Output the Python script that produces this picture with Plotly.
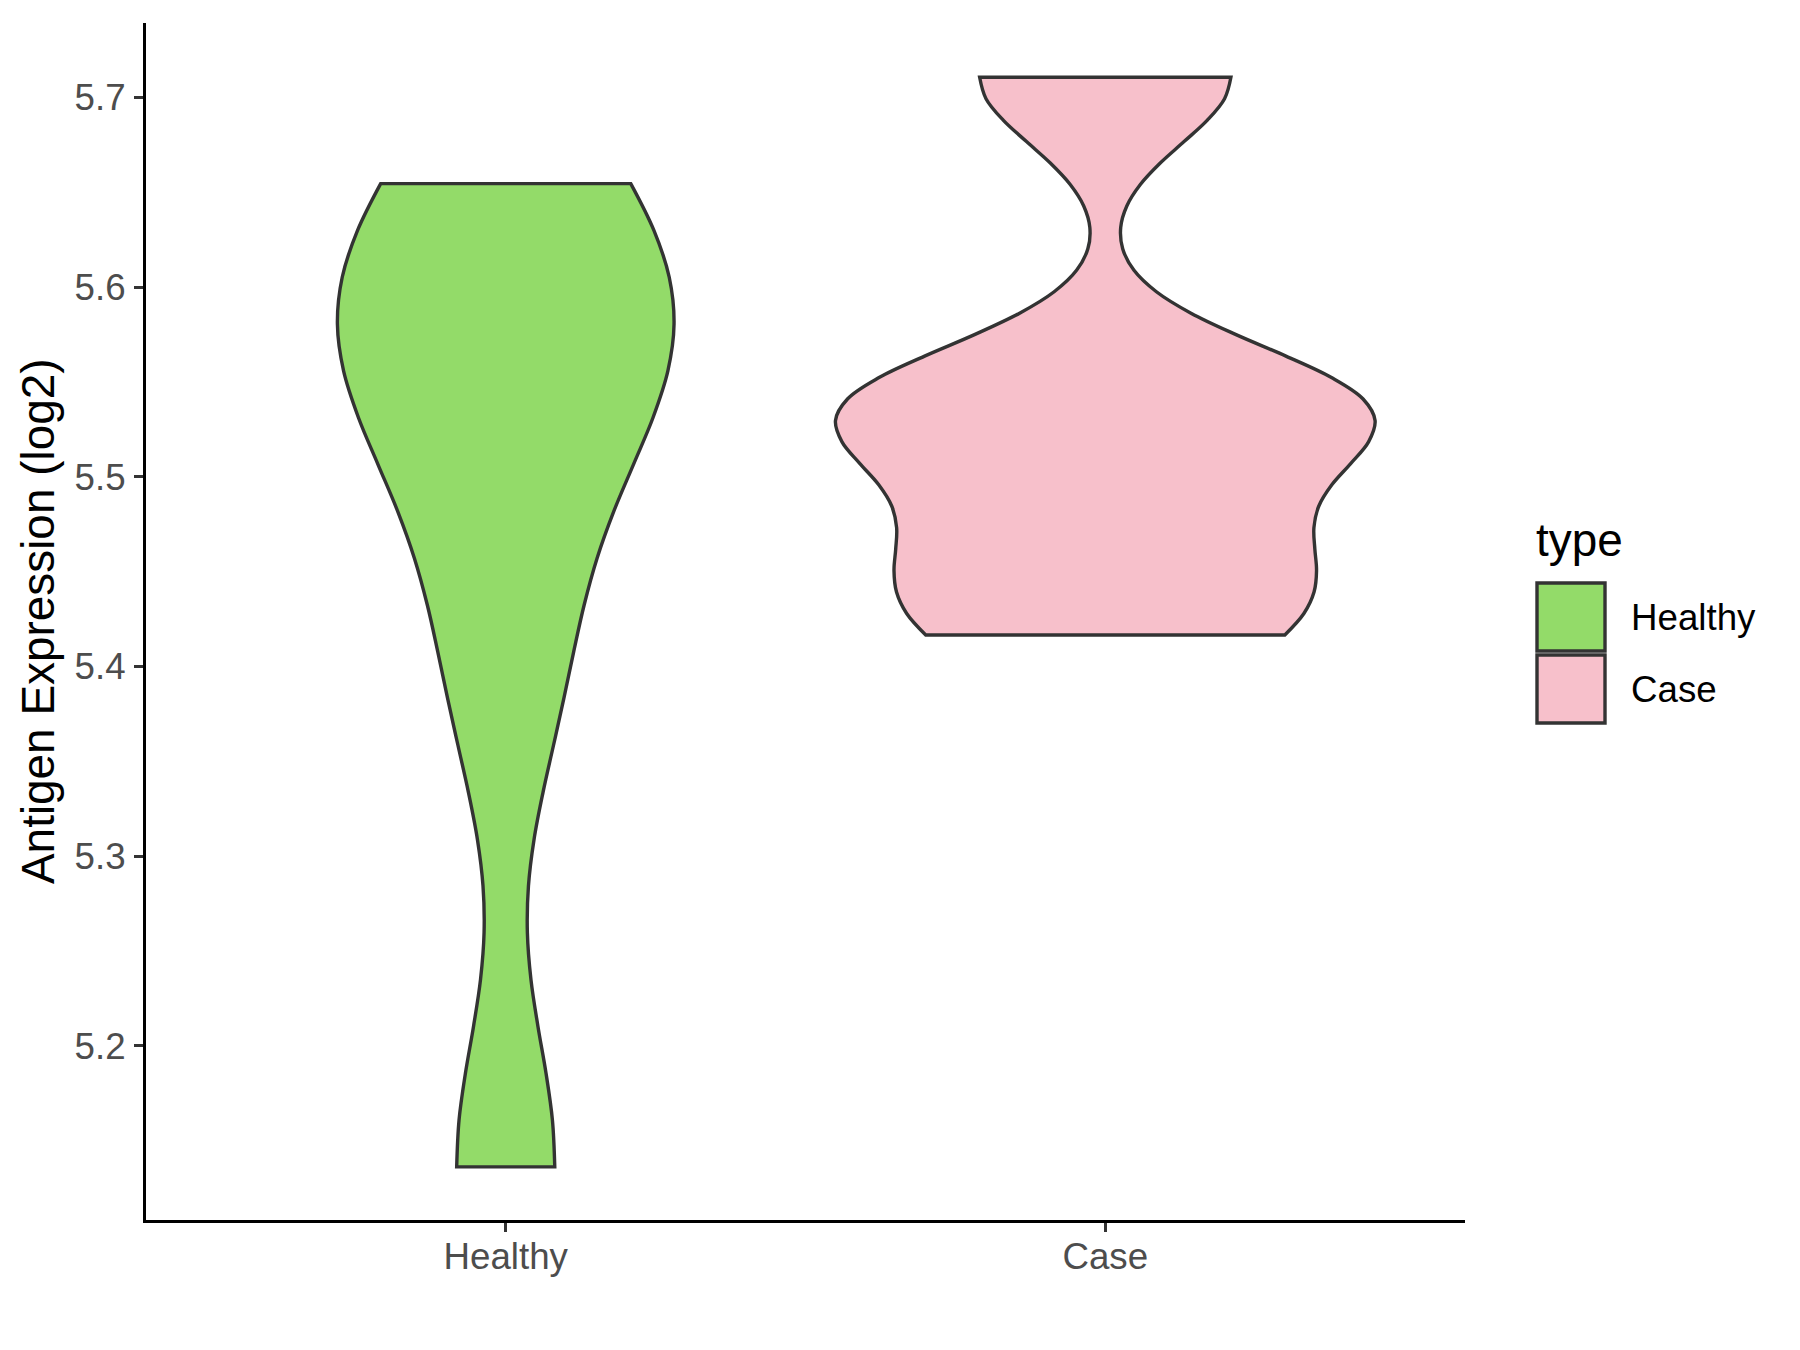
import plotly.graph_objects as go

# ---- data ----
categories = ["Healthy", "Case"]
healthy_values = [5.1361, 5.3982, 5.5319, 5.5701, 5.5987, 5.6546]
case_values = [5.4166, 5.4627, 5.5344, 5.5349, 5.7107]
y_tick_values = [5.2, 5.3, 5.4, 5.5, 5.6, 5.7]
y_tick_labels = ["5.2", "5.3", "5.4", "5.5", "5.6", "5.7"]
legend_title = "type"
y_title = "Antigen Expression (log2)"

# ---- style ----
fill_colors = {"Healthy": "#93DB69", "Case": "#F7C0CB"}
bandwidths = {"Healthy": 0.0751, "Case": 0.0351}
outline = "#333333"
FONT = "Liberation Sans, Arial, sans-serif"
TICK_SIZE = 36.7
TITLE_SIZE = 45.9

OFF = 8  # default page margin of the html body
W, H = 1800 - 2 * OFF, 1350 - 2 * OFF
# plot area in screen pixels
SL, SR, ST, SB = 146, 1465, 23, 1220
L, R, T, B = SL - OFF, SR - OFF, ST - OFF, SB - OFF


def px_x(px):
    return (px - OFF - L) / (R - L)


def px_y(py):
    return (B - (py - OFF)) / (B - T)


fig = go.Figure()
for cat, vals in zip(categories, [healthy_values, case_values]):
    fig.add_trace(go.Violin(
        x=[cat] * len(vals), y=vals, name=cat,
        scalegroup="all", scalemode="width", spanmode="hard",
        bandwidth=bandwidths[cat],
        fillcolor=fill_colors[cat], opacity=1,
        line=dict(color=outline, width=3.4),
        points=False, box_visible=False, meanline_visible=False,
        showlegend=False, hoveron="violins",
    ))

axis_common = dict(
    showline=True, linecolor="black", linewidth=3.2,
    ticks="outside", ticklen=9, tickwidth=3, tickcolor=outline,
    tickfont=dict(family=FONT, size=TICK_SIZE, color="#4D4D4D"),
    showgrid=False, zeroline=False, mirror=False,
)

fig.update_layout(
    width=W, height=H,
    margin=dict(l=L, r=W - R, t=T, b=H - B, autoexpand=False),
    paper_bgcolor="white", plot_bgcolor="white",
    violinmode="overlay", violingap=0.1, violingroupgap=0,
    showlegend=False,
    xaxis=dict(type="category", categoryorder="array", categoryarray=categories,
               range=[-0.6, 1.6], ticklabelstandoff=-7, **axis_common),
    yaxis=dict(range=[5.1081, 5.7393], tickmode="array",
               tickvals=y_tick_values, ticktext=y_tick_labels,
               ticklabelstandoff=1, **axis_common),
)

# y-axis title
fig.add_annotation(text=y_title, xref="paper", yref="paper",
                   x=px_x(38), y=px_y(622), textangle=-90,
                   showarrow=False, xanchor="center", yanchor="middle",
                   font=dict(family=FONT, size=TITLE_SIZE, color="black"))

# legend (drawn as keys + text)
fig.add_annotation(text=legend_title, xref="paper", yref="paper",
                   x=px_x(1534), y=px_y(540), showarrow=False,
                   xanchor="left", yanchor="middle",
                   font=dict(family=FONT, size=TITLE_SIZE, color="black"))
key_tops = [583, 655]
key_size = 68
for cat, top in zip(categories, key_tops):
    fig.add_shape(type="rect", xref="paper", yref="paper",
                  x0=px_x(1537), x1=px_x(1537 + key_size),
                  y0=px_y(top + key_size), y1=px_y(top),
                  fillcolor=fill_colors[cat], line=dict(color=outline, width=3.4))
    fig.add_annotation(text=cat, xref="paper", yref="paper",
                       x=px_x(1629), y=px_y(top + key_size / 2),
                       showarrow=False, xanchor="left", yanchor="middle",
                       font=dict(family=FONT, size=TICK_SIZE, color="black"))

fig.write_html("out.html")
